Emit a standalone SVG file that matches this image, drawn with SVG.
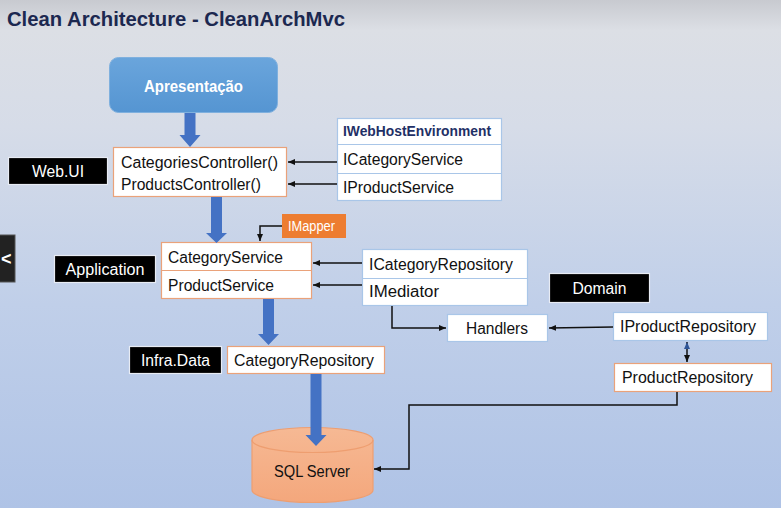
<svg xmlns="http://www.w3.org/2000/svg" width="781" height="508" viewBox="0 0 781 508">
  <defs>
    <linearGradient id="bg" x1="0" y1="0" x2="0" y2="1">
      <stop offset="0" stop-color="#c8cad0"/>
      <stop offset="0.06" stop-color="#dcdfe5"/>
      <stop offset="0.25" stop-color="#d6dce8"/>
      <stop offset="0.6" stop-color="#c0cfe9"/>
      <stop offset="1" stop-color="#afc3e6"/>
    </linearGradient>
    <linearGradient id="blueFill" x1="0" y1="0" x2="0" y2="1">
      <stop offset="0" stop-color="#6aa5dc"/>
      <stop offset="1" stop-color="#5595d2"/>
    </linearGradient>
    <linearGradient id="sqlFill" x1="0" y1="0" x2="0" y2="1">
      <stop offset="0" stop-color="#f6b994"/>
      <stop offset="1" stop-color="#f4a77c"/>
    </linearGradient>
    <marker id="arr" markerUnits="userSpaceOnUse" markerWidth="8" markerHeight="8" refX="7" refY="4" orient="auto">
      <path d="M0,1 L7,4 L0,7 z" fill="#111"/>
    </marker>
    <marker id="arrStart" markerUnits="userSpaceOnUse" markerWidth="8" markerHeight="8" refX="1" refY="4" orient="auto">
      <path d="M8,1 L1,4 L8,7 z" fill="#2f5597"/>
    </marker>
  </defs>
  <style>
    text { font-family: "Liberation Sans", Arial, sans-serif; }
    .t { font-size: 16px; fill: #111; }
    .w { font-size: 16px; fill: #fff; }
    .lbl { fill: #000; stroke: #e8ecf4; stroke-width: 1.2; }
    .obox { fill: #fff; stroke: #eaa27a; stroke-width: 1.2; }
    .ibox { fill: #fff; stroke: #a9c6e8; stroke-width: 1.2; }
    .conn { fill: none; stroke: #111; stroke-width: 1.5; }
    .big { fill: #4472c4; }
  </style>
  <rect x="0" y="0" width="781" height="508" fill="url(#bg)"/>
  <text x="7" y="26" font-size="21" font-weight="bold" fill="#1c2850" textLength="338" lengthAdjust="spacingAndGlyphs">Clean Architecture - CleanArchMvc</text>

  <g id="player-back">
    <rect x="-2" y="235" width="17" height="47" fill="#222" stroke="#555" stroke-width="1"/>
    <text x="1" y="265" font-size="18" font-weight="bold" fill="#fff">&lt;</text>
  </g>

  <g id="apresentacao">
    <rect x="109.5" y="57.5" width="168" height="55" rx="9" fill="url(#blueFill)" stroke="#7fb0de" stroke-width="1"/>
    <text x="193.5" y="92" font-size="16" font-weight="bold" fill="#fff" text-anchor="middle" textLength="99" lengthAdjust="spacingAndGlyphs">Apresentação</text>
  </g>

  <g id="webui-label">
    <rect class="lbl" x="8.5" y="157.5" width="99" height="27"/>
    <text class="w" x="58" y="177" text-anchor="middle" textLength="52" lengthAdjust="spacingAndGlyphs">Web.UI</text>
  </g>

  <g id="controllers">
    <rect class="obox" x="113.5" y="147.5" width="173" height="49"/>
    <text class="t" x="121" y="168" textLength="157" lengthAdjust="spacingAndGlyphs">CategoriesController()</text>
    <text class="t" x="121" y="190" textLength="140" lengthAdjust="spacingAndGlyphs">ProductsController()</text>
  </g>

  <g id="webui-interfaces">
    <rect class="ibox" x="337.5" y="118.5" width="164" height="82"/>
    <line x1="337.5" y1="144.5" x2="501.5" y2="144.5" stroke="#a9c6e8" stroke-width="1.2"/>
    <line x1="337.5" y1="173.5" x2="501.5" y2="173.5" stroke="#a9c6e8" stroke-width="1.2"/>
    <text x="343" y="136" font-size="14" font-weight="bold" fill="#1f3066" textLength="148" lengthAdjust="spacingAndGlyphs">IWebHostEnvironment</text>
    <text class="t" x="343" y="165" textLength="120" lengthAdjust="spacingAndGlyphs">ICategoryService</text>
    <text class="t" x="343" y="193" textLength="111" lengthAdjust="spacingAndGlyphs">IProductService</text>
  </g>

  <g id="imapper">
    <rect x="282" y="214" width="64" height="24" fill="#ed7d31"/>
    <text x="288" y="231" font-size="14" fill="#fff" textLength="47" lengthAdjust="spacingAndGlyphs">IMapper</text>
  </g>

  <g id="application-label">
    <rect class="lbl" x="54.5" y="255.5" width="101" height="27"/>
    <text class="w" x="105" y="275" text-anchor="middle" textLength="79" lengthAdjust="spacingAndGlyphs">Application</text>
  </g>

  <g id="services">
    <rect class="obox" x="161.5" y="242.5" width="150" height="56"/>
    <line x1="161.5" y1="270.5" x2="311.5" y2="270.5" stroke="#eaa27a" stroke-width="1.2"/>
    <text class="t" x="168" y="263" textLength="115" lengthAdjust="spacingAndGlyphs">CategoryService</text>
    <text class="t" x="168" y="291" textLength="106" lengthAdjust="spacingAndGlyphs">ProductService</text>
  </g>

  <g id="application-interfaces">
    <rect class="ibox" x="362.5" y="249.5" width="165" height="56"/>
    <line x1="362.5" y1="278.5" x2="527.5" y2="278.5" stroke="#a9c6e8" stroke-width="1.2"/>
    <text class="t" x="369" y="270" textLength="144" lengthAdjust="spacingAndGlyphs">ICategoryRepository</text>
    <text class="t" x="369" y="297" textLength="70" lengthAdjust="spacingAndGlyphs">IMediator</text>
  </g>

  <g id="domain-label">
    <rect class="lbl" x="549.5" y="273.5" width="100" height="29"/>
    <text class="w" x="599.5" y="294" text-anchor="middle" textLength="54" lengthAdjust="spacingAndGlyphs">Domain</text>
  </g>

  <g id="handlers">
    <rect class="ibox" x="447.5" y="314.5" width="100" height="27"/>
    <text class="t" x="497" y="334" text-anchor="middle" textLength="62" lengthAdjust="spacingAndGlyphs">Handlers</text>
  </g>

  <g id="iproductrepository">
    <rect class="ibox" x="613.5" y="312.5" width="154" height="28"/>
    <text class="t" x="620" y="332" textLength="136" lengthAdjust="spacingAndGlyphs">IProductRepository</text>
  </g>

  <g id="productrepository">
    <rect class="obox" x="614.5" y="363.5" width="157" height="28"/>
    <text class="t" x="622" y="383" textLength="131" lengthAdjust="spacingAndGlyphs">ProductRepository</text>
  </g>

  <g id="infradata-label">
    <rect class="lbl" x="129.5" y="346.5" width="92" height="27"/>
    <text class="w" x="175.5" y="366" text-anchor="middle" textLength="69" lengthAdjust="spacingAndGlyphs">Infra.Data</text>
  </g>

  <g id="categoryrepository">
    <rect class="obox" x="227.5" y="346.5" width="157" height="27"/>
    <text class="t" x="234" y="366" textLength="140" lengthAdjust="spacingAndGlyphs">CategoryRepository</text>
  </g>

  <g id="sqlserver">
    <path d="M252,440 A60.5,12.5 0 0 1 373,440 V490 A60.5,12.5 0 0 1 252,490 Z" fill="url(#sqlFill)" stroke="#ee9e70" stroke-width="1.2"/>
    <path d="M252,440 A60.5,12.5 0 0 0 373,440" fill="none" stroke="#ee9e70" stroke-width="1.2"/>
    <text class="t" x="312" y="477" text-anchor="middle" textLength="76" lengthAdjust="spacingAndGlyphs">SQL Server</text>
  </g>

  <g id="connectors">
    <path class="big" d="M184.5,113 H195.5 V135 H200.5 L190,147 L179.5,135 H184.5 Z"/>
    <path class="big" d="M211,197 H222 V233 H227 L216.5,243 L206,233 H211 Z"/>
    <path class="big" d="M263,299 H274 V334 H279 L268.5,345 L258,334 H263 Z"/>
    <path class="big" d="M310.5,374 H321.5 V435 H326.5 L316,446 L305.5,435 H310.5 Z"/>
    <line class="conn" x1="337" y1="162" x2="288" y2="162" marker-end="url(#arr)"/>
    <line class="conn" x1="337" y1="184" x2="288" y2="184" marker-end="url(#arr)"/>
    <polyline class="conn" points="282,226 260,226 260,241" marker-end="url(#arr)"/>
    <line class="conn" x1="362" y1="263" x2="313" y2="263" marker-end="url(#arr)"/>
    <line class="conn" x1="362" y1="285" x2="313" y2="285" marker-end="url(#arr)"/>
    <polyline class="conn" points="392,306 392,328 446,328" marker-end="url(#arr)"/>
    <line class="conn" x1="613" y1="327" x2="549" y2="328" marker-end="url(#arr)"/>
    <line class="conn" x1="687" y1="342" x2="687" y2="362" marker-end="url(#arr)" marker-start="url(#arrStart)"/>
    <polyline class="conn" points="677,392 677,405 409,405 409,469 374,469" marker-end="url(#arr)"/>
  </g>
</svg>
